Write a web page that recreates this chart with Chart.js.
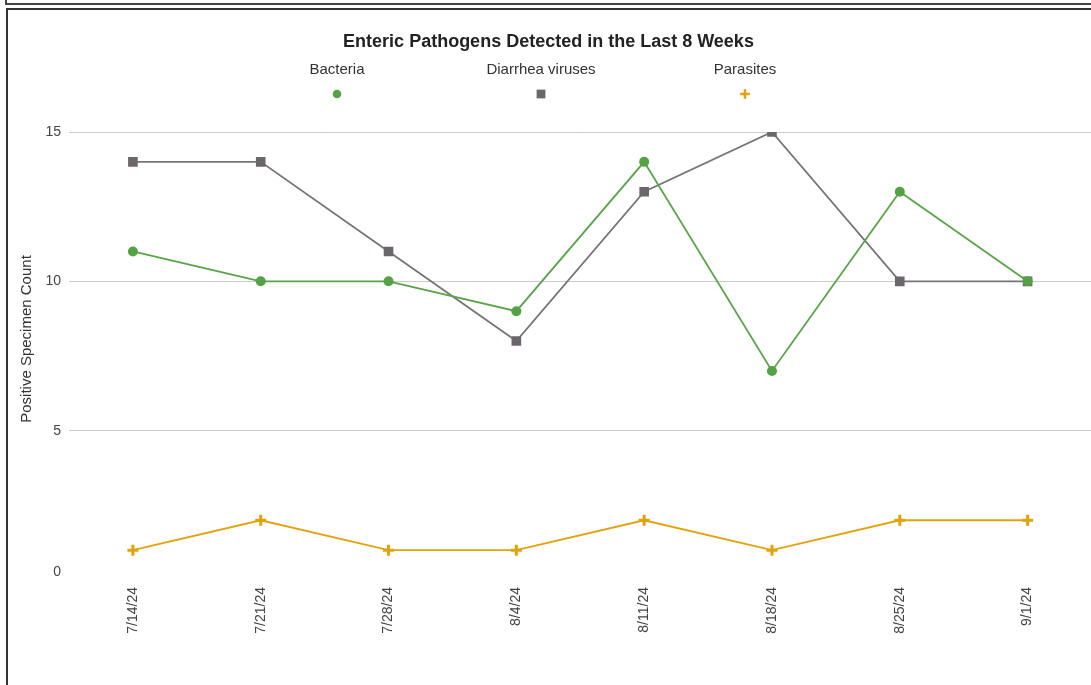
<!DOCTYPE html>
<html>
<head>
<meta charset="utf-8">
<script src="https://cdn.jsdelivr.net/npm/chart.js@4.4.1/dist/chart.umd.min.js"></script>
<style>
  html, body { margin: 0; padding: 0; background: #fff; overflow: hidden; width: 1091px; height: 685px; }
  #topbox { position: absolute; left: 5px; top: -20px; width: 1200px; height: 23px; border-left: 2px solid #444; border-bottom: 2px solid #444; }
  #box { position: absolute; left: 6px; top: 8px; width: 1200px; height: 800px; border-left: 2px solid #333; border-top: 2px solid #333; }
  #wrap { position: absolute; left: 0; top: 0; width: 1100px; height: 685px; }
</style>
</head>
<body>
<div id="topbox"></div>
<div id="box"></div>
<div id="wrap"><canvas id="c"></canvas></div>
<script>
const categories = ["7/14/24", "7/21/24", "7/28/24", "8/4/24", "8/11/24", "8/18/24", "8/25/24", "9/1/24"];
const bacteria = [11, 10, 10, 9, 14, 7, 13, 10];
const diarrheaViruses = [14, 14, 11, 8, 13, 15, 10, 10];
const parasites = [1, 2, 1, 1, 2, 1, 2, 2];
const seriesNames = ["Bacteria", "Diarrhea viruses", "Parasites"];
const yTicks = [0, 5, 10, 15];
const chartTitle = "Enteric Pathogens Detected in the Last 8 Weeks";
const yTitle = "Positive Specimen Count";

const FONT = "Arial, 'Liberation Sans', sans-serif";
const colors = ["#58a548", "#757575", "#e3a20c"];
const pointColors = ["#55a246", "#6b666b", "#e3a20c"];

const datasets = [
  { label: seriesNames[0], data: bacteria, pointStyle: 'circle', pointRadius: 5, pointBorderWidth: 0, legendRadius: 4.3 },
  { label: seriesNames[1], data: diarrheaViruses, pointStyle: 'rect', pointRadius: 6.8, pointBorderWidth: 0, legendRadius: 6.2 },
  { label: seriesNames[2], data: parasites, pointStyle: 'cross', pointRadius: 5.5, pointBorderWidth: 3, legendRadius: 4.8 }
];
datasets.forEach((d, i) => {
  d.borderColor = colors[i];
  d.backgroundColor = pointColors[i];
  d.pointBorderColor = pointColors[i];
  d.pointBackgroundColor = pointColors[i];
  d.pointHoverRadius = d.pointRadius;
  d.borderWidth = 1.8;
  d.tension = 0;
});

const extrasPlugin = {
  id: 'extras',
  afterDraw(chart) {
    const ctx = chart.ctx;
    const xs = [337, 541, 745];
    ctx.save();
    ctx.font = "15px " + FONT;
    ctx.textAlign = "center";
    ctx.textBaseline = "middle";
    chart.data.datasets.forEach((ds, i) => {
      ctx.fillStyle = "#333";
      ctx.fillText(ds.label, xs[i], 70);
      ctx.fillStyle = pointColors[i];
      ctx.strokeStyle = pointColors[i];
      const bw = ds.pointStyle === 'cross' ? 2.5 : 0;
      ctx.lineWidth = bw;
      Chart.helpers.drawPoint(ctx, { pointStyle: ds.pointStyle, radius: ds.legendRadius, rotation: 0, borderWidth: bw }, xs[i], 94);
    });
    ctx.restore();
    ctx.save();
    ctx.font = "15px " + FONT;
    ctx.fillStyle = "#333";
    ctx.textAlign = "center";
    ctx.textBaseline = "middle";
    ctx.translate(27, 339);
    ctx.rotate(-Math.PI / 2);
    ctx.fillText(yTitle, 0, 0);
    ctx.restore();
    ctx.save();
    ctx.font = "14px " + FONT;
    ctx.fillStyle = "#444";
    ctx.textAlign = "right";
    ctx.textBaseline = "middle";
    ctx.fillText(String(yTicks[0]), 61, 572);
    ctx.restore();
  }
};

new Chart(document.getElementById('c'), {
  type: 'line',
  data: { labels: categories, datasets: datasets },
  options: {
    responsive: true,
    maintainAspectRatio: false,
    animation: false,
    layout: { padding: { left: 0, right: 3, top: 0, bottom: 0 } },
    plugins: {
      legend: { display: false },
      tooltip: { enabled: false },
      title: {
        display: true, text: chartTitle, color: "#222",
        font: { family: FONT, size: 18, weight: 'bold' },
        padding: { top: 31, bottom: 79.4 }
      }
    },
    scales: {
      x: {
        offset: true,
        grid: { display: false, drawTicks: false },
        border: { display: false },
        ticks: { color: "#444", font: { family: FONT, size: 14 }, minRotation: 90, maxRotation: 90, padding: 7, autoSkip: false },
        afterFit(scale) { scale.height = 105; }
      },
      y: {
        min: 0, max: 15,
        afterBuildTicks(scale) { scale.ticks = yTicks.map(v => ({ value: v })); },
        grid: { color: ctx => (ctx.tick && ctx.tick.value === 0) ? 'rgba(0,0,0,0)' : '#cccccc', drawTicks: false, lineWidth: 1 },
        border: { display: false },
        ticks: { color: "#444", font: { family: FONT, size: 14 }, padding: 8,
                 callback: v => v === 0 ? '' : String(v) },
        afterFit(scale) { scale.width = 69; }
      }
    }
  },
  plugins: [extrasPlugin]
});
</script>
</body>
</html>
